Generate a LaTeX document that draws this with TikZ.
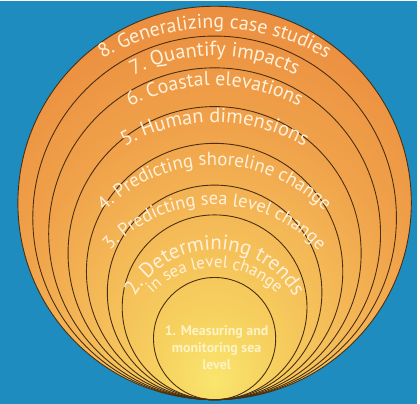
\documentclass[tikz,border=0pt]{standalone}
\usepackage{fontspec}
\newfontfamily\lbl{PT Sans}
\usetikzlibrary{decorations.text}
\definecolor{bgblue}{HTML}{1E8CBE}
\definecolor{shA}{HTML}{F9E66E}
\definecolor{shB}{HTML}{F6CE5E}
\definecolor{shC}{HTML}{F4B756}
\definecolor{shD}{HTML}{F0A24A}
\definecolor{shE}{HTML}{EE9A46}
\definecolor{shF}{HTML}{E8843A}
\definecolor{shG}{HTML}{E47B34}
\definecolor{ringline}{HTML}{4A2E12}
\definecolor{labeltext}{HTML}{FFF1DA}
\definecolor{coretext}{HTML}{FDF3C4}
% warm glow rising from near the shared bottom point
\pgfdeclareradialshading{bowl}{\pgfpoint{0bp}{-23bp}}{%
  color(0bp)=(shA); color(8bp)=(shB); color(17bp)=(shC); color(25bp)=(shD);
  color(30bp)=(shE); color(42bp)=(shF); color(50bp)=(shG); color(75bp)=(shG)}
\newcommand{\lblsize}[1]{\lbl\fontsize{#1}{#1}\selectfont}
\begin{document}
\begin{tikzpicture}[x=1pt,y=1pt,
  ring/.style={circle, draw=ringline, line width=0.9pt, inner sep=0pt,
    outer sep=0pt, anchor=south},
  arclabel/.style={decorate, decoration={text along path, text align=center,
    text color=labeltext}}]
\fill[bgblue] (0,0) rectangle (420,-405);
\coordinate (base) at (216,-401);
% nested rings, all touching at the bottom
\node[ring, shading=bowl, minimum size=396pt] (c8) at (base) {};
\node[ring, minimum size=366pt] (c7) at (base) {};
\node[ring, minimum size=334pt] (c6) at (base) {};
\node[ring, minimum size=295pt] (c5) at (base) {};
\node[ring, minimum size=258pt] (c4) at (base) {};
\node[ring, minimum size=216pt] (c3) at (base) {};
\node[ring, minimum size=186pt] (c2) at (base) {};
\node[ring, minimum size=123pt] (c1) at (base) {};
% centres of the curved label baselines
\coordinate (t8) at (216,-247);
\coordinate (t7) at (216,-237);
\coordinate (t6) at (216,-268);
\coordinate (t5) at (216,-304);
\coordinate (t4) at (216,-319.5);
\coordinate (t3) at (216,-347);
\coordinate (t2) at (216,-341);
\coordinate (t2b) at (216,-356);
\path[arclabel, decoration={text={|\lblsize{20}|8. Generalizing case studies}}]
  ([shift={(160:220)}]t8) arc[start angle=160, end angle=20, radius=220];
\path[arclabel, decoration={text={|\lblsize{20.5}|7. Quantify impacts}}]
  ([shift={(160:182)}]t7) arc[start angle=160, end angle=20, radius=182];
\path[arclabel, decoration={text={|\lblsize{20}|6. Coastal elevations}}]
  ([shift={(160:183)}]t6) arc[start angle=160, end angle=20, radius=183];
\path[arclabel, decoration={text={|\lblsize{20.5}|5. Human dimensions}}]
  ([shift={(160:182)}]t5) arc[start angle=160, end angle=20, radius=182];
\path[arclabel, decoration={text={|\lblsize{19}|4. Predicting shoreline change}}]
  ([shift={(172:154.5)}]t4) arc[start angle=172, end angle=8, radius=154.5];
\path[arclabel, decoration={text={|\lblsize{18.5}|3. Predicting sea level change}}]
  ([shift={(178:142)}]t3) arc[start angle=178, end angle=2, radius=142];
\path[arclabel, decoration={text={|\lblsize{21}|2. Determining trends}}]
  ([shift={(185:91)}]t2) arc[start angle=185, end angle=-5, radius=91];
\path[arclabel, decoration={text={|\lblsize{17}|in sea level change}}]
  ([shift={(180:88)}]t2b) arc[start angle=180, end angle=0, radius=88];
\node[align=center, text=coretext, font=\lblsize{14}\bfseries, inner sep=0pt] (l1)
  at (218,-349) {1. Measuring and\\[3pt]monitoring sea\\[3pt]level};
\end{tikzpicture}
\end{document}
